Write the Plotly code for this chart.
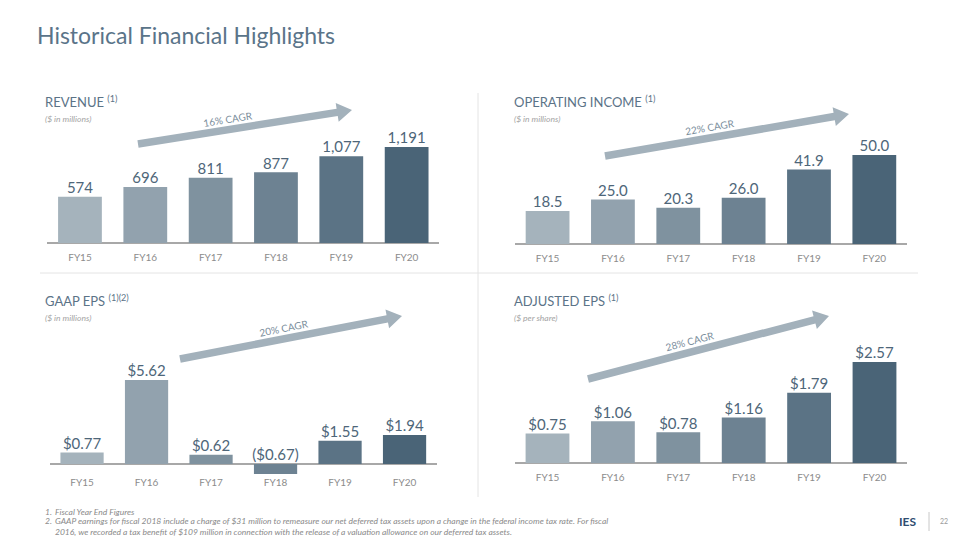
import math
import plotly.graph_objects as go

W, H = 960, 540
OFF = 8  # page body margin offset compensation

categories = ["FY15", "FY16", "FY17", "FY18", "FY19", "FY20"]
revenue = [574, 696, 811, 877, 1077, 1191]
operating_income = [18.5, 25.0, 20.3, 26.0, 41.9, 50.0]
gaap_eps = [0.77, 5.62, 0.62, -0.67, 1.55, 1.94]
adjusted_eps = [0.75, 1.06, 0.78, 1.16, 1.79, 2.57]

bar_colors = ["#a5b3bc", "#92a2ae", "#7f929f", "#6d8292", "#5b7385", "#4a6477"]

panel_titles = ["REVENUE <sup>(1)</sup>", "OPERATING INCOME <sup>(1)</sup>",
                "GAAP EPS <sup>(1)(2)</sup>", "ADJUSTED EPS <sup>(1)</sup>"]
panel_units = ["($ in millions)", "($ in millions)", "($ in millions)", "($ per share)"]
cagr_labels = ["16% CAGR", "22% CAGR", "20% CAGR", "28% CAGR"]

footnotes = [
    ("1.", ["Fiscal Year End Figures"]),
    ("2.", ["GAAP earnings for fiscal 2018 include a charge of $31 million to remeasure our net deferred tax assets upon a change in the federal income tax rate. For fiscal",
            "2016, we recorded a tax benefit of $109 million in connection with the release of a valuation allowance on our deferred tax assets."]),
]


def fmt_rev(v):
    return f"{v:,.0f}"


def fmt_oi(v):
    return f"{v:.1f}"


def fmt_eps(v):
    return f"(${abs(v):.2f})" if v < 0 else f"${v:.2f}"


series = [revenue, operating_income, gaap_eps, adjusted_eps]
formatters = [fmt_rev, fmt_oi, fmt_eps, fmt_eps]

# layout geometry (pixels): x-left, x-right, baseline, px per unit, top px, label-center px
panels = [
    dict(xl=47.3, xr=439.3, base=243, ppu=96 / 1191, top=95, lab=259),
    dict(xl=514.9, xr=907.0, base=244, ppu=89 / 50.0, top=95, lab=260),
    dict(xl=49.8, xr=436.8, base=464, ppu=84 / 5.62, top=295, lab=484),
    dict(xl=514.8, xr=907.2, base=463, ppu=101 / 2.57, top=295, lab=479),
]
header_pos = [(43, 101.5, 119), (511.5, 101.5, 119), (43, 300, 318), (511.5, 300, 318)]
# arrow start, tip, label center x
arrows = [
    ((138, 144), (352, 110), 230),
    ((605, 156), (849, 114), 712),
    ((180, 359), (402, 316), 286),
    ((588, 379), (829, 316), 693),
]

FONT = "Lato"
fig = go.Figure()
layout = dict(
    width=W, height=H, margin=dict(l=0, r=0, t=0, b=0),
    paper_bgcolor="white", plot_bgcolor="white",
    showlegend=False, bargap=0.33,
    font=dict(family=FONT),
)
annotations = []
shapes = []


def px(x):
    return (x - OFF) / W


def py(y):
    return 1 - (y - OFF) / H


for i, p in enumerate(panels):
    k = "" if i == 0 else str(i + 1)
    vals = series[i]
    bottom_px = max(p["base"] + 2, p["base"] + (-min(min(vals), 0) * p["ppu"]) + 2)
    ymin = -(bottom_px - p["base"]) / p["ppu"]
    ymax = (p["base"] - p["top"]) / p["ppu"]
    fig.add_trace(go.Bar(
        x=categories, y=vals, xaxis="x" + k, yaxis="y" + k,
        marker=dict(color=bar_colors, line=dict(width=0)),
        hoverinfo="skip",
    ))
    fig.add_trace(go.Scatter(
        x=categories, y=[max(v, 0) for v in vals], xaxis="x" + k, yaxis="y" + k,
        mode="text", text=[formatters[i](v) for v in vals],
        textposition="top center",
        textfont=dict(family=FONT, size=15, color="#4e6679"),
        hoverinfo="skip", cliponaxis=False,
    ))
    layout["xaxis" + k] = dict(
        type="category", domain=[px(p["xl"]), px(p["xr"])], range=[-0.5, 5.5],
        anchor="free", position=py(p["lab"] - 9), showline=False, showgrid=False,
        zeroline=False, ticks="", tickfont=dict(family=FONT, size=10, color="#8c8c8c"),
        fixedrange=True,
    )
    layout["yaxis" + k] = dict(
        domain=[py(bottom_px), py(p["top"])], range=[ymin, ymax],
        anchor="x" + k, showgrid=False, showticklabels=False, showline=False,
        zeroline=True, zerolinecolor="#a8a8a8", zerolinewidth=1.5, fixedrange=True,
    )
    hx, hy, sy = header_pos[i]
    annotations.append(dict(
        x=px(hx), y=py(hy), xref="paper", yref="paper", xanchor="left", yanchor="middle",
        text=panel_titles[i], showarrow=False,
        font=dict(family=FONT, size=13, color="#5b7387"),
    ))
    annotations.append(dict(
        x=px(hx), y=py(sy), xref="paper", yref="paper", xanchor="left", yanchor="middle",
        text="<i>" + panel_units[i] + "</i>", showarrow=False,
        font=dict(family=FONT, size=8.5, color="#a3a3a3"),
    ))
    (x0, y0), (x1, y1), tx = arrows[i]
    dx, dy = x1 - x0, y1 - y0
    L = math.hypot(dx, dy)
    ux, uy = dx / L, dy / L
    nx, ny = -uy, ux
    bw, hw, hl = 7.5, 19, 15
    bx, by = x1 - ux * hl, y1 - uy * hl
    pts = [
        (x0 + nx * bw / 2, y0 + ny * bw / 2),
        (bx + nx * bw / 2, by + ny * bw / 2),
        (bx + nx * hw / 2, by + ny * hw / 2),
        (x1, y1),
        (bx - nx * hw / 2, by - ny * hw / 2),
        (bx - nx * bw / 2, by - ny * bw / 2),
        (x0 - nx * bw / 2, y0 - ny * bw / 2),
    ]
    path = "M " + " L ".join(f"{px(a):.5f},{py(b):.5f}" for a, b in pts) + " Z"
    shapes.append(dict(type="path", xref="paper", yref="paper", path=path,
                       fillcolor="#a3b1bb", line=dict(width=0)))
    ang = math.degrees(math.atan2(dy, dx))
    # label center: point on centerline at tx, offset 11px along the upward normal
    cy = y0 + (tx - x0) * dy / dx
    lx, ly = tx + nx * 11, cy + ny * 11
    if ny > 0:
        lx, ly = tx - nx * 11, cy - ny * 11
    annotations.append(dict(
        x=px(lx), y=py(ly), xref="paper", yref="paper", xanchor="center", yanchor="middle",
        text=cagr_labels[i], textangle=ang, showarrow=False,
        font=dict(family=FONT, size=10, color="#7b8e9c"),
    ))

# separators
shapes.append(dict(type="line", xref="paper", yref="paper", x0=px(40), x1=px(918),
                   y0=py(273), y1=py(273), line=dict(color="#e4e4e4", width=1)))
shapes.append(dict(type="line", xref="paper", yref="paper", x0=px(478), x1=px(478),
                   y0=py(93), y1=py(497), line=dict(color="#e4e4e4", width=1)))
shapes.append(dict(type="line", xref="paper", yref="paper", x0=px(929), x1=px(929),
                   y0=py(512), y1=py(531), line=dict(color="#c8c8c8", width=1)))

# title
annotations.append(dict(
    x=px(35), y=py(35), xref="paper", yref="paper", xanchor="left", yanchor="middle",
    text="Historical Financial Highlights", showarrow=False,
    font=dict(family=FONT, size=23, color="#5a7489"),
))

# footnotes
for j, (num, lines) in enumerate(footnotes):
    ytop = [504.5, 514][j]
    annotations.append(dict(
        x=px(43), y=py(ytop), xref="paper", yref="paper", xanchor="left", yanchor="top",
        text="<i>" + num + "</i>", showarrow=False,
        font=dict(family=FONT, size=8.5, color="#8a8a8a"),
    ))
    annotations.append(dict(
        x=px(52.5), y=py(ytop), xref="paper", yref="paper", xanchor="left", yanchor="top",
        text="<br>".join("<i>" + t + "</i>" for t in lines), showarrow=False, align="left",
        font=dict(family=FONT, size=8.5, color="#8a8a8a"),
    ))

# logo and page number
annotations.append(dict(
    x=px(918), y=py(521), xref="paper", yref="paper", xanchor="right", yanchor="middle",
    text="<b>IES</b>", showarrow=False, font=dict(family=FONT, size=12, color="#2f4d70"),
))
annotations.append(dict(
    x=px(944), y=py(521), xref="paper", yref="paper", xanchor="center", yanchor="middle",
    text="22", showarrow=False, font=dict(family=FONT, size=7, color="#9a9a9a"),
))

layout["annotations"] = annotations
layout["shapes"] = shapes
fig.update_layout(**layout)
fig.write_html("out.html")
